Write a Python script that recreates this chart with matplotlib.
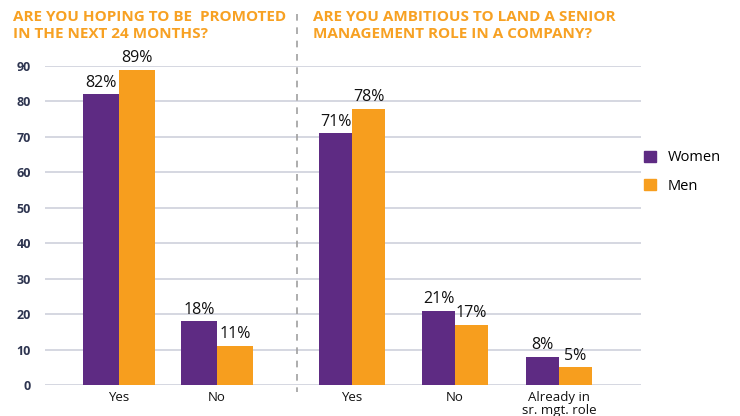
import numpy as np
import matplotlib.pyplot as plt
from matplotlib.patches import Patch

plt.rcParams['font.family'] = ['Open Sans', 'DejaVu Sans']

# survey answers, percent
promo_labels = ["Yes", "No"]
promo_women = [82, 18]
promo_men = [89, 11]

senior_labels = ["Yes", "No", "Already in\nsr. mgt. role"]
senior_women = [71, 21, 8]
senior_men = [78, 17, 5]

purple = "#5E2B83"
orange = "#F79E1E"
orange_title = "#F7A123"

fig = plt.figure(figsize=(7.4, 4.16), dpi=100)
ax = fig.add_axes([45 / 740, 31 / 416, 596 / 740, 319 / 416])

# group centres, horizontal units are figure pixels
promo_x = np.array([119, 217])
senior_x = np.array([352, 455, 559])
promo_w = 36
senior_w = 33

def draw_group(xs, w, women, men):
    bw = ax.bar(xs - w / 2, women, w, color=purple, zorder=3)
    bm = ax.bar(xs + w / 2, men, w, color=orange, zorder=3)
    for b, v in zip(list(bw) + list(bm), women + men):
        ax.text(b.get_x() + b.get_width() / 2, v + 1.0, f"{v}%",
                ha="center", va="bottom", fontsize=11.5, color="#111111")

draw_group(promo_x, promo_w, promo_women, promo_men)
draw_group(senior_x, senior_w, senior_women, senior_men)

ax.set_xlim(45, 641)
ax.set_ylim(0, 90)
ax.set_yticks(range(0, 91, 10))
ax.set_xticks(list(promo_x) + list(senior_x))
ax.set_xticklabels(promo_labels + senior_labels, fontsize=9.5, color="#111111",
                   linespacing=1.0)
for t in ax.get_yticklabels():
    t.set_fontweight("bold")
    t.set_fontsize(9)
    t.set_color("#2E3550")
ax.tick_params(length=0, pad=10)
ax.tick_params(axis="x", pad=4)
ax.yaxis.grid(True, color="#D2D4DE", linewidth=1.3, zorder=0)
for s in ax.spines.values():
    s.set_visible(False)

# dashed divider between the two questions
fig.add_artist(plt.Line2D([297 / 740, 297 / 740], [1 - 14 / 416, 1 - 392 / 416],
                          color="#A0A0A0", linestyle=(0, (4, 4)), linewidth=1.2))

fig.text(13 / 740, 1 - 10 / 416, "ARE YOU HOPING TO BE  PROMOTED\nIN THE NEXT 24 MONTHS?",
         ha="left", va="top", fontsize=11, fontweight="bold", color=orange_title,
         linespacing=1.25)
fig.text(313 / 740, 1 - 10 / 416, "ARE YOU AMBITIOUS TO LAND A SENIOR\nMANAGEMENT ROLE IN A COMPANY?",
         ha="left", va="top", fontsize=11, fontweight="bold", color=orange_title,
         linespacing=1.25)

handles = [Patch(color=purple, label="Women"), Patch(color=orange, label="Men")]
fig.legend(handles=handles, loc="center left", bbox_to_anchor=(631 / 740, 1 - 172 / 416),
           frameon=False, fontsize=10.5, handlelength=0.8, handleheight=0.8,
           handletextpad=0.8, labelspacing=0.9)

fig.savefig("out.png", dpi=100)
